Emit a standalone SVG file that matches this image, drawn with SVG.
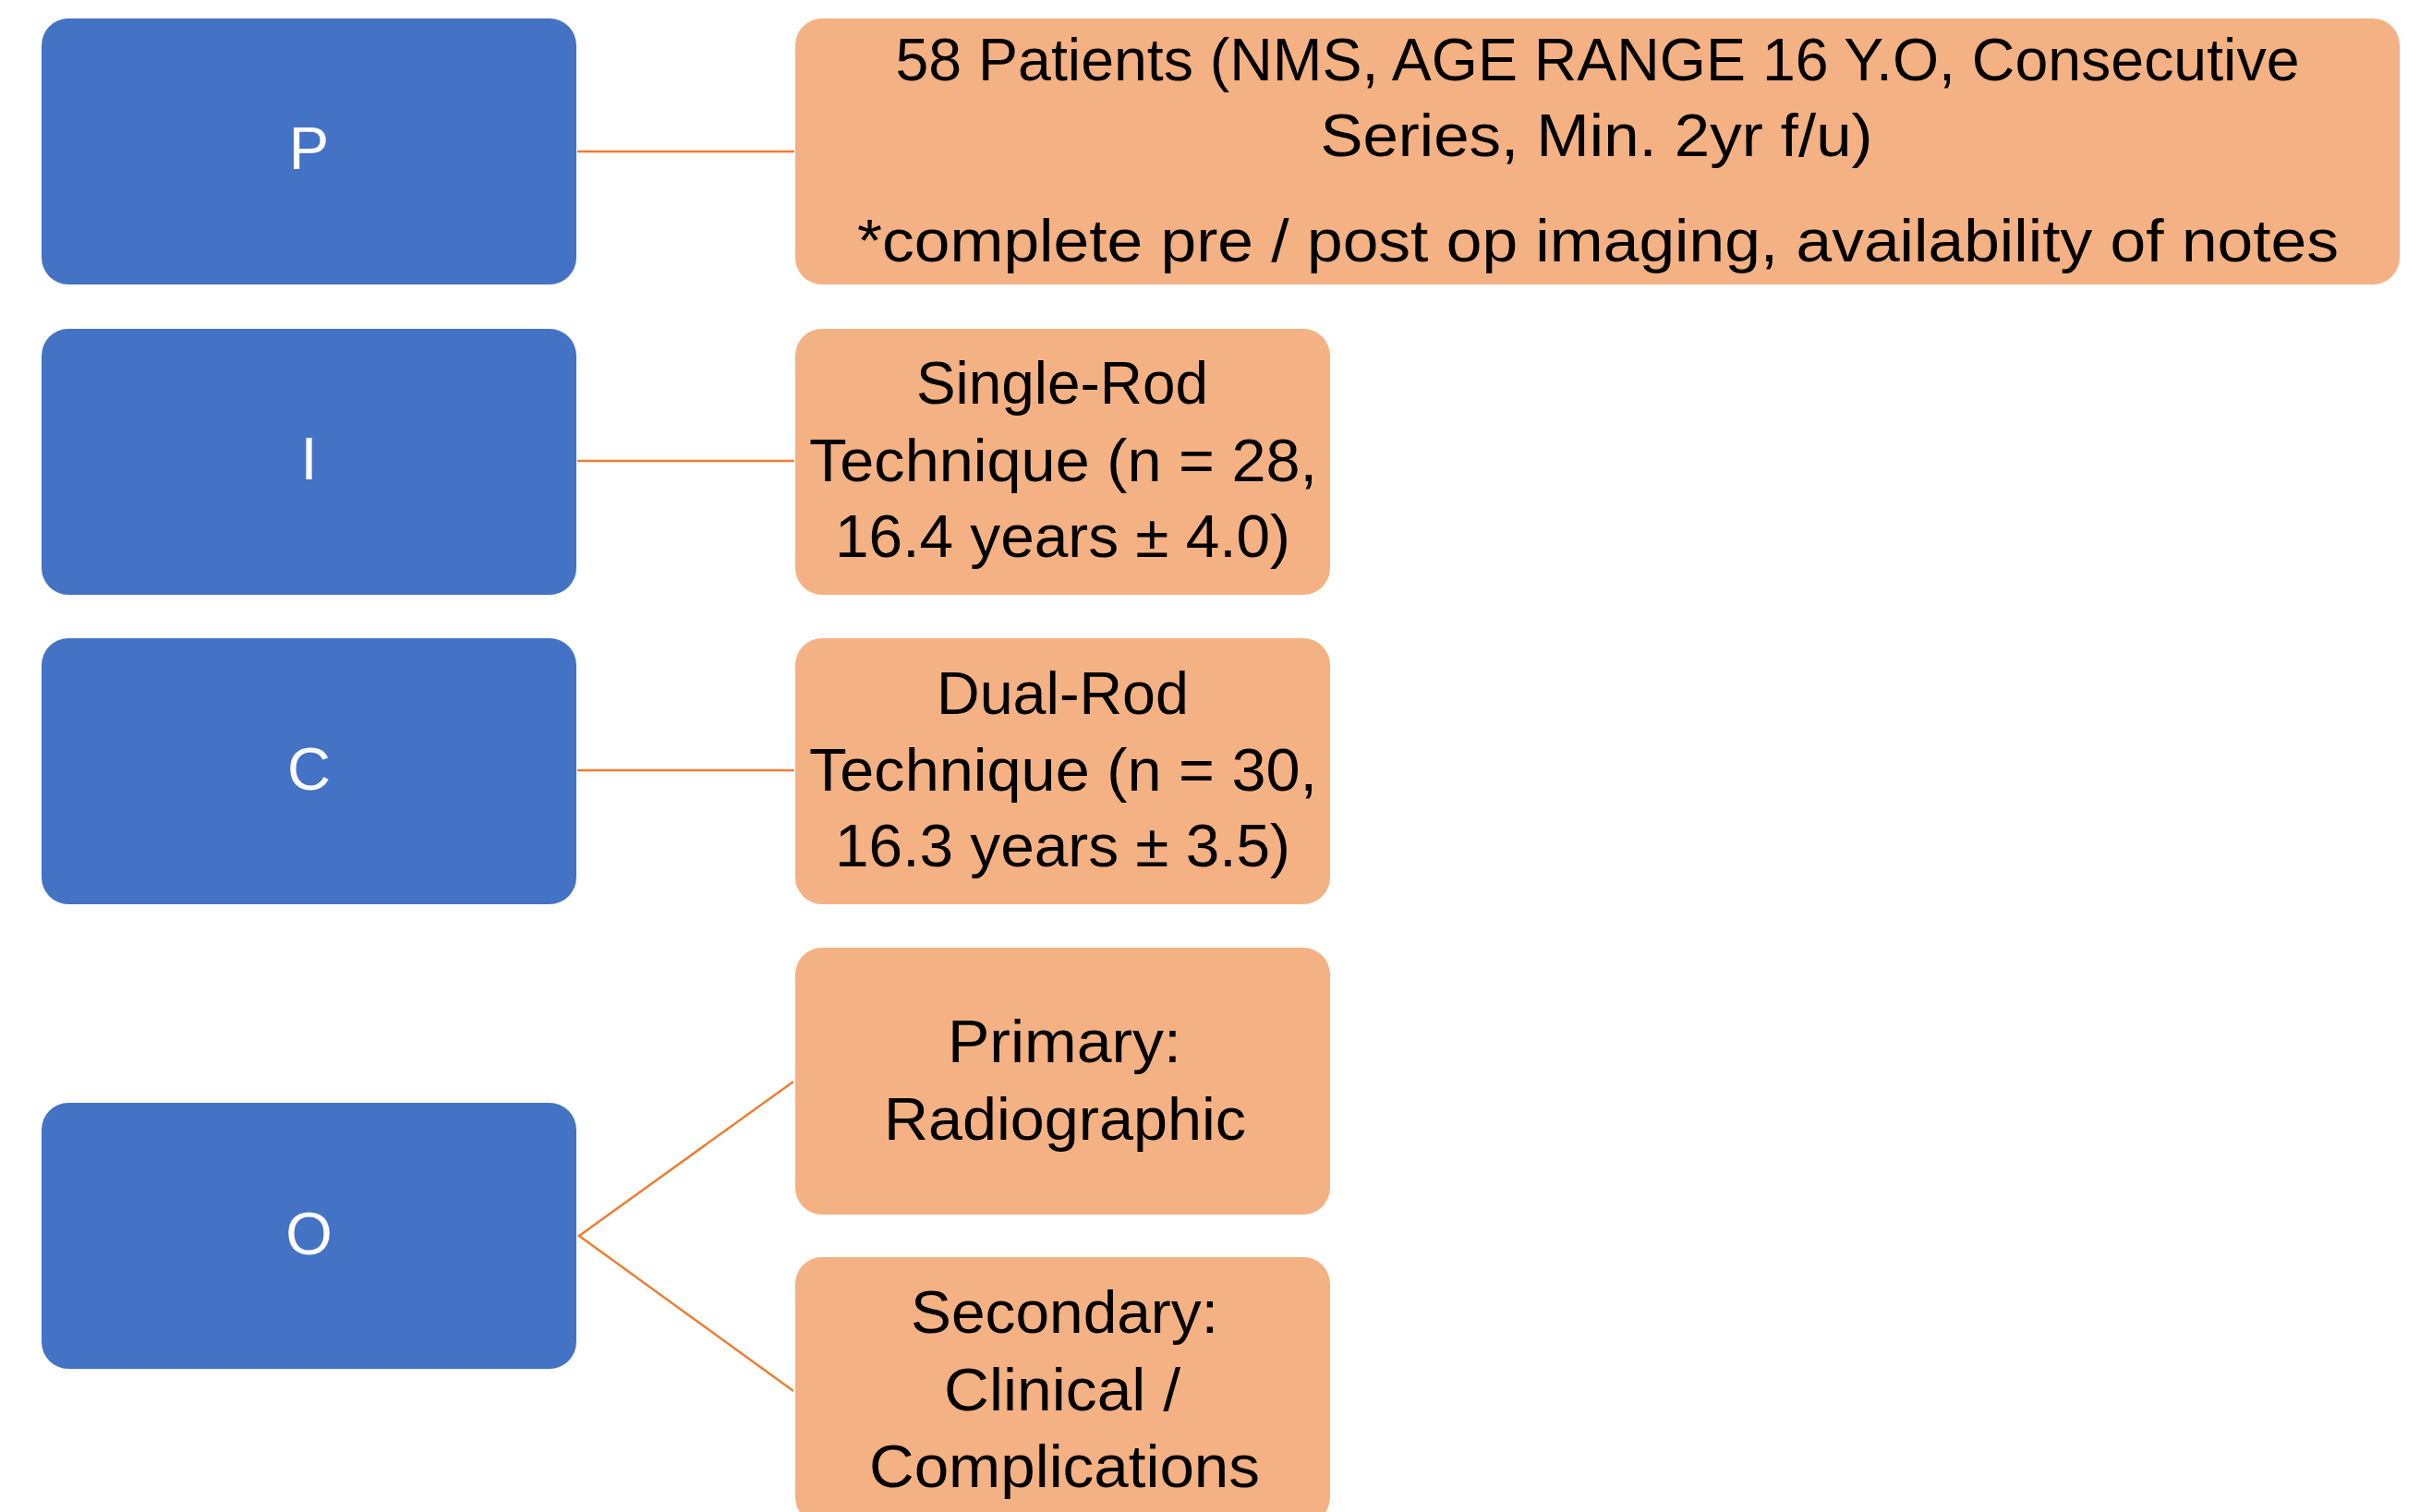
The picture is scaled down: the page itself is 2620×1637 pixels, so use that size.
<svg xmlns="http://www.w3.org/2000/svg" width="2620" height="1637" viewBox="0 0 2620 1637">
<style>
.b{fill:#4472C4}
.o{fill:#F4B183}
.bt{font-family:"Liberation Sans",Arial,sans-serif;font-size:65px;fill:#FFFFFF;text-anchor:middle}
.ot{font-family:"Liberation Sans",Arial,sans-serif;font-size:65px;fill:#000000;text-anchor:middle}
.c{stroke:#ED7D31;stroke-width:2.5;fill:none}
</style>
<rect width="2620" height="1637" fill="#FFFFFF"/>
<g id="connectors">
<line class="c" x1="625" y1="164" x2="860" y2="164"/>
<line class="c" x1="625" y1="499" x2="860" y2="499"/>
<line class="c" x1="625" y1="834" x2="860" y2="834"/>
<polyline class="c" points="859,1171 627,1338 859,1506"/>
</g>
<g id="node-P">
<rect class="b" x="45" y="20" width="579" height="288" rx="29"/>
<text class="bt" x="334.5" y="183">P</text>
</g>
<g id="node-P-detail">
<rect class="o" x="861" y="20" width="1737" height="288" rx="29"/>
<text class="ot" x="1729.5" y="87" textLength="1520" lengthAdjust="spacingAndGlyphs">58 Patients (NMS, AGE RANGE 16 Y.O, Consecutive</text>
<text class="ot" x="1728.5" y="169" textLength="598" lengthAdjust="spacingAndGlyphs">Series, Min. 2yr f/u)</text>
<text class="ot" x="1730" y="283" textLength="1604" lengthAdjust="spacingAndGlyphs">*complete pre / post op imaging, availability of notes</text>
</g>
<g id="node-I">
<rect class="b" x="45" y="356" width="579" height="288" rx="29"/>
<text class="bt" x="334.5" y="519">I</text>
</g>
<g id="node-I-detail">
<rect class="o" x="861" y="356" width="579" height="288" rx="29"/>
<text class="ot" x="1150" y="437" textLength="316" lengthAdjust="spacingAndGlyphs">Single-Rod</text>
<text class="ot" x="1151" y="521" textLength="550" lengthAdjust="spacingAndGlyphs">Technique (n = 28,</text>
<text class="ot" x="1150.5" y="603" textLength="493" lengthAdjust="spacingAndGlyphs">16.4 years ± 4.0)</text>
</g>
<g id="node-C">
<rect class="b" x="45" y="691" width="579" height="288" rx="29"/>
<text class="bt" x="334.5" y="855">C</text>
</g>
<g id="node-C-detail">
<rect class="o" x="861" y="691" width="579" height="288" rx="29"/>
<text class="ot" x="1150.5" y="773" textLength="273" lengthAdjust="spacingAndGlyphs">Dual-Rod</text>
<text class="ot" x="1151" y="856" textLength="550" lengthAdjust="spacingAndGlyphs">Technique (n = 30,</text>
<text class="ot" x="1150.5" y="938" textLength="493" lengthAdjust="spacingAndGlyphs">16.3 years ± 3.5)</text>
</g>
<g id="node-O">
<rect class="b" x="45" y="1194" width="579" height="288" rx="29"/>
<text class="bt" x="334.5" y="1358">O</text>
</g>
<g id="node-O-primary">
<rect class="o" x="861" y="1026" width="579" height="289" rx="29"/>
<text class="ot" x="1152.5" y="1150" textLength="253" lengthAdjust="spacingAndGlyphs">Primary:</text>
<text class="ot" x="1153" y="1234" textLength="392" lengthAdjust="spacingAndGlyphs">Radiographic</text>
</g>
<g id="node-O-secondary">
<rect class="o" x="861" y="1361" width="579" height="289" rx="29"/>
<text class="ot" x="1152.5" y="1443" textLength="333" lengthAdjust="spacingAndGlyphs">Secondary:</text>
<text class="ot" x="1150" y="1527" textLength="256" lengthAdjust="spacingAndGlyphs">Clinical /</text>
<text class="ot" x="1152.5" y="1610" textLength="423" lengthAdjust="spacingAndGlyphs">Complications</text>
</g>
</svg>
